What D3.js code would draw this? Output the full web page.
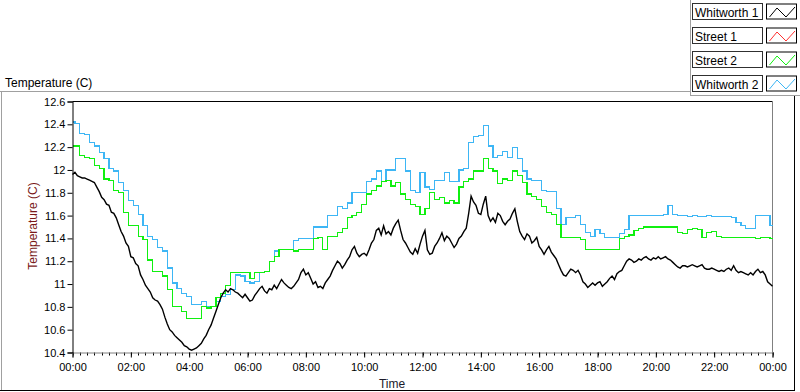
<!DOCTYPE html>
<html><head><meta charset="utf-8">
<script src="https://cdn.jsdelivr.net/npm/d3@7"></script>
<style>
body{margin:0;background:#fff}
svg{display:block}
text{font-family:"Liberation Sans",Arial,sans-serif}
</style>
</head><body>
<svg id="chart" width="800" height="392"></svg>
<script>
// ---- data, 00:00 .. 24:00 (Whitworth 1 every 5 min, others every 10 min) ----
const dayMinutes = 24 * 60;
const seriesNames = ["Whitworth 1", "Street 1", "Street 2", "Whitworth 2"];
const whitworth1 = [
  11.96,11.98,11.95,11.94,11.93,11.93,11.92,11.91,11.90,11.89,11.85,11.81,
  11.76,11.74,11.70,11.69,11.63,11.62,11.58,11.52,11.46,11.42,11.36,11.33,
  11.24,11.23,11.18,11.16,11.08,11.04,10.99,10.96,10.93,10.88,10.86,10.85,
  10.82,10.78,10.71,10.65,10.60,10.58,10.55,10.53,10.51,10.49,10.46,10.45,
  10.43,10.42,10.43,10.44,10.46,10.48,10.52,10.55,10.60,10.64,10.70,10.76,
  10.82,10.88,10.92,10.95,10.93,10.96,10.95,10.93,10.92,10.90,10.88,10.91,
  10.88,10.85,10.86,10.90,10.93,10.96,10.98,10.94,10.92,10.96,10.95,10.99,
  10.96,11.00,11.04,11.01,10.99,10.97,10.96,10.98,11.01,11.04,11.10,11.13,
  11.08,11.10,11.05,11.00,11.02,10.97,10.98,10.96,11.01,11.04,11.07,11.12,
  11.16,11.20,11.18,11.14,11.17,11.21,11.24,11.30,11.33,11.27,11.24,11.26,
  11.27,11.25,11.30,11.36,11.39,11.47,11.49,11.43,11.51,11.44,11.46,11.43,
  11.49,11.53,11.56,11.47,11.39,11.36,11.32,11.28,11.26,11.31,11.27,11.35,
  11.42,11.47,11.30,11.26,11.27,11.33,11.36,11.40,11.45,11.38,11.42,11.40,
  11.36,11.32,11.35,11.40,11.42,11.46,11.49,11.62,11.77,11.72,11.69,11.62,
  11.61,11.70,11.77,11.60,11.55,11.58,11.54,11.62,11.60,11.55,11.52,11.55,
  11.57,11.62,11.66,11.55,11.46,11.42,11.39,11.44,11.42,11.36,11.38,11.41,
  11.33,11.30,11.26,11.30,11.33,11.28,11.25,11.22,11.17,11.12,11.08,11.07,
  11.10,11.13,11.12,11.10,11.12,11.08,11.02,11.00,10.97,10.99,11.01,10.99,
  11.01,11.02,10.98,11.00,11.02,11.05,11.07,11.04,11.09,11.11,11.12,11.16,
  11.20,11.22,11.21,11.19,11.20,11.22,11.21,11.23,11.24,11.22,11.21,11.23,
  11.22,11.24,11.22,11.23,11.24,11.22,11.21,11.19,11.17,11.15,11.14,11.16,
  11.16,11.15,11.16,11.17,11.16,11.15,11.16,11.17,11.14,11.13,11.13,11.14,
  11.13,11.12,11.11,11.12,11.11,11.13,11.14,11.12,11.16,11.12,11.10,11.11,
  11.10,11.09,11.08,11.10,11.08,11.11,11.13,11.10,11.11,11.08,11.02,11.00,
  10.98
];
const street1 = [];
const street2 = [
  12.21,12.21,12.13,12.11,12.10,12.04,12.01,11.92,11.91,11.82,
  11.80,11.63,11.51,11.51,11.42,11.39,11.21,11.11,11.11,11.07,
  10.95,10.80,10.80,10.76,10.70,10.70,10.70,10.80,10.79,10.80,
  10.88,10.92,10.99,11.10,11.10,11.10,11.10,11.05,11.10,11.10,
  11.11,11.20,11.24,11.30,11.30,11.30,11.29,11.30,11.30,11.30,
  11.40,11.41,11.30,11.42,11.42,11.45,11.49,11.58,11.60,11.63,
  11.70,11.79,11.82,11.86,11.90,11.91,11.86,11.89,11.79,11.74,
  11.70,11.68,11.61,11.66,11.80,11.74,11.76,11.71,11.73,11.71,
  11.85,11.90,11.92,11.99,11.99,12.10,12.01,11.99,11.88,11.92,
  11.91,11.99,11.95,11.89,11.79,11.77,11.74,11.68,11.63,11.61,
  11.52,11.41,11.41,11.41,11.41,11.39,11.30,11.30,11.30,11.30,
  11.30,11.30,11.30,11.40,11.42,11.43,11.47,11.49,11.50,11.50,
  11.50,11.50,11.50,11.50,11.50,11.45,11.44,11.48,11.49,11.48,
  11.41,11.45,11.46,11.42,11.41,11.41,11.41,11.41,11.41,11.41,
  11.41,11.40,11.41,11.41,11.40
];
const whitworth2 = [
  12.42,12.41,12.32,12.31,12.24,12.21,12.15,12.10,12.01,11.99,
  11.89,11.82,11.73,11.69,11.61,11.51,11.42,11.39,11.32,11.29,
  11.14,11.01,10.96,10.92,10.89,10.82,10.82,10.85,10.80,10.80,
  10.85,10.89,10.91,10.95,11.08,11.07,11.02,11.01,11.02,11.10,
  11.11,11.20,11.29,11.30,11.30,11.30,11.38,11.40,11.40,11.40,
  11.50,11.50,11.50,11.60,11.60,11.68,11.66,11.71,11.80,11.80,
  11.80,11.90,11.92,11.99,11.90,12.00,12.00,12.10,12.10,11.99,
  11.82,11.80,11.98,11.85,11.83,11.91,11.91,11.98,11.90,11.90,
  12.00,12.01,12.24,12.29,12.30,12.39,12.21,12.11,12.13,12.16,
  12.11,12.20,12.10,11.99,11.92,11.91,11.91,11.82,11.81,11.81,
  11.66,11.52,11.58,11.58,11.60,11.52,11.45,11.42,11.48,11.44,
  11.41,11.41,11.41,11.44,11.48,11.60,11.60,11.60,11.60,11.60,
  11.60,11.60,11.61,11.69,11.61,11.60,11.60,11.59,11.60,11.59,
  11.59,11.60,11.59,11.59,11.59,11.59,11.58,11.54,11.51,11.49,
  11.49,11.60,11.60,11.60,11.51
];
const yTickValues = [10.4,10.6,10.8,11,11.2,11.4,11.6,11.8,12,12.2,12.4,12.6];
const yTickLabels = ["10.4","10.6","10.8","11","11.2","11.4","11.6","11.8","12","12.2","12.4","12.6"];
const xTickLabels = ["00:00","02:00","04:00","06:00","08:00","10:00","12:00","14:00","16:00","18:00","20:00","22:00","00:00"];
const chartTitle = "Temperature (C)";
const yAxisTitle = "Temperature (C)";
const xAxisTitle = "Time";

// ---- styles ----
const seriesColors = ["#000000", "#ff3030", "#10f010", "#3db6f5"];
const seriesCurves = [d3.curveLinear, d3.curveStep, d3.curveStep, d3.curveStep];

const svg = d3.select("#chart");
const plot = {left: 72.5, right: 772.5, top: 101.5, bottom: 352.5};

const x = d3.scaleLinear().domain([0, dayMinutes]).range([plot.left, plot.right]);
const y = d3.scaleLinear().domain([10.4, 12.6]).range([plot.bottom, plot.top]);

// outer frame
svg.append("line").attr("x1", 0).attr("x2", 690.5).attr("y1", 91.5).attr("y2", 91.5).attr("stroke", "#a0a0a0");
svg.append("line").attr("x1", 1.5).attr("x2", 1.5).attr("y1", 91.5).attr("y2", 390).attr("stroke", "#a0a0a0");
svg.append("line").attr("x1", 0).attr("x2", 795).attr("y1", 390.5).attr("y2", 390.5).attr("stroke", "#000");
svg.append("line").attr("x1", 794.5).attr("x2", 794.5).attr("y1", 95.5).attr("y2", 391).attr("stroke", "#000");
svg.append("line").attr("x1", 690.5).attr("x2", 690.5).attr("y1", 0).attr("y2", 96).attr("stroke", "#a0a0a0");
svg.append("line").attr("x1", 690.5).attr("x2", 800).attr("y1", 95.5).attr("y2", 95.5).attr("stroke", "#a0a0a0");

// title
svg.append("text").attr("x", 5).attr("y", 86.5).attr("font-size", 12).attr("fill", "#000").text(chartTitle);

// plot background + borders
svg.append("rect").attr("x", plot.left).attr("y", plot.top).attr("width", plot.right - plot.left).attr("height", plot.bottom - plot.top).attr("fill", "#fff");
svg.append("line").attr("x1", plot.left).attr("x2", plot.right).attr("y1", plot.top).attr("y2", plot.top).attr("stroke", "#000");
svg.append("line").attr("x1", plot.right).attr("x2", plot.right).attr("y1", plot.top).attr("y2", plot.bottom).attr("stroke", "#808080");

// series
const allSeries = [whitworth1, street1, street2, whitworth2];
const g = svg.append("g");
[3, 2, 1, 0].forEach(k => {
  const vals = allSeries[k];
  if (!vals.length) return;
  const step = dayMinutes / (vals.length - 1);
  const line = d3.line().x((d, i) => x(i * step)).y(d => y(d)).curve(seriesCurves[k]);
  g.append("path").attr("d", line(vals)).attr("fill", "none")
    .attr("stroke", seriesColors[k]).attr("stroke-width", k === 0 ? 1.4 : 1.2)
    .attr("stroke-linejoin", "miter")
    .attr("shape-rendering", k === 0 ? "auto" : "crispEdges");
});

// y axis
const yAxis = d3.axisLeft(y).tickValues(yTickValues).tickSize(5).tickPadding(2)
  .tickFormat((d, i) => yTickLabels[i]);
const yg = svg.append("g").attr("transform", `translate(${plot.left},0)`).call(yAxis);
yg.select(".domain").attr("stroke", "#000");
yg.selectAll(".tick line").attr("stroke", "#000");
yg.selectAll("text").attr("font-size", 11).attr("fill", "#000").style("font-family", "'Liberation Sans',Arial,sans-serif");

// x axis: minor ticks every 15 min, major every 2 h
const minor = d3.range(0, dayMinutes + 1, 15);
svg.append("g").selectAll("line").data(minor).join("line")
  .attr("x1", d => Math.round(x(d)) + 0.5).attr("x2", d => Math.round(x(d)) + 0.5)
  .attr("y1", plot.bottom).attr("y2", plot.bottom + 3).attr("stroke", "#000");
const xAxis = d3.axisBottom(x).tickValues(d3.range(0, dayMinutes + 1, 120)).tickSize(5).tickPadding(6)
  .tickFormat((d, i) => xTickLabels[i]);
const xg = svg.append("g").attr("transform", `translate(0,${plot.bottom})`).call(xAxis);
xg.select(".domain").attr("stroke", "#808080");
xg.selectAll(".tick line").attr("stroke", "#000");
xg.selectAll("text").attr("font-size", 11).attr("fill", "#000").style("font-family", "'Liberation Sans',Arial,sans-serif");

// axis titles
svg.append("text").attr("transform", "translate(37,226) rotate(-90)").attr("text-anchor", "middle")
  .attr("font-size", 12).attr("fill", "#7a1a1a").text(yAxisTitle);
svg.append("text").attr("x", 392).attr("y", 388).attr("text-anchor", "middle")
  .attr("font-size", 12).attr("fill", "#1a1a2a").text(xAxisTitle);

// legend
const lg = svg.append("g");
seriesNames.forEach((name, i) => {
  const y0 = 3.5 + i * 24;
  lg.append("rect").attr("x", 692.5).attr("y", y0).attr("width", 70).attr("height", 16)
    .attr("fill", "#fff").attr("stroke", "#303030");
  lg.append("text").attr("x", 695).attr("y", y0 + 13).attr("font-size", 12).attr("fill", "#000").text(name);
  lg.append("rect").attr("x", 766.5).attr("y", y0 + 0.5).attr("width", 30).attr("height", 15)
    .attr("fill", "#fff").attr("stroke", "#000");
  const pts = [[769.5, y0 + 13.5], [777, y0 + 4.5], [786, y0 + 13.5], [795, y0 + 3.5]];
  lg.append("path").attr("d", d3.line()(pts)).attr("fill", "none").attr("stroke", seriesColors[i]).attr("stroke-width", 1);
});
</script>
</body></html>
